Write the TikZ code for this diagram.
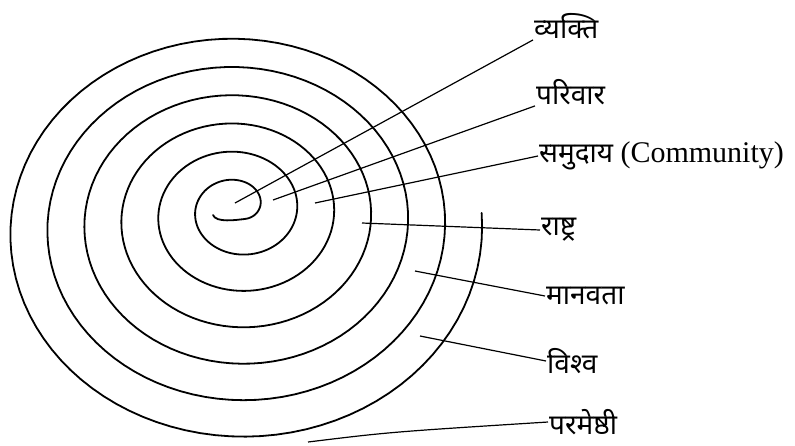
\documentclass[tikz,border=0pt]{standalone}
\usepackage{fontspec}
\newfontfamily\devfont[Script=Devanagari]{Noto Sans}
\newfontfamily\latfont{Liberation Serif}
\begin{document}
\begin{tikzpicture}[x=1pt,y=-1pt,
  spiralline/.style={line width=1.8pt, line join=round, line cap=round},
  leader/.style={line width=1.2pt},
  lbl/.style={anchor=west, inner sep=1pt, font=\devfont\fontsize{28}{32}\selectfont}]
\useasboundingbox (0,0) rectangle (795,445);
% the spiral, from the centre outwards (radius and centre grow with the angle)
\draw[spiralline] (213,215) .. controls (216,223) and (236,220) .. (245.4,218.9)
  -- plot[domain=300:2525, samples=600, variable=\t]
  ({237+(-14+0.1028*\t)*cos(\t)}, {202.9+0.0114*\t-(-12.5+0.0899*\t)*sin(\t)});
% labels
\node[lbl] (vyakti) at (533,26) {व्यक्ति};
\node[lbl] (parivar) at (535,92) {परिवार};
\node[lbl] (samuday) at (538,156) {समुदाय {\latfont\fontsize{30}{32}\selectfont (Community)}};
\node[lbl] (rashtra) at (540,230) {राष्ट्र};
\node[lbl] (manavta) at (545,296) {मानवता};
\node[lbl] (vishva) at (546,361) {विश्व};
\node[lbl] (parmeshthi) at (548,422) {परमेष्ठी};
% inner ends of the leaders
\coordinate (c1) at (235,203);
\coordinate (c2) at (273,200);
\coordinate (c3) at (315,203);
\coordinate (c4) at (362,223);
\coordinate (c5) at (415,271);
\coordinate (c6) at (420,336);
\coordinate (c7) at (308,442);
\draw[leader] (c1) -- (vyakti.south west);
\draw[leader] (c2) -- (parivar.south west);
\draw[leader] (c3) -- (samuday.west);
\draw[leader] (c4) -- (rashtra.west);
\draw[leader] (c5) -- (manavta.west);
\draw[leader] (c6) -- (vishva.west);
\draw[leader] (c7) .. controls (390,432) .. (parmeshthi.west);
\end{tikzpicture}
\end{document}
